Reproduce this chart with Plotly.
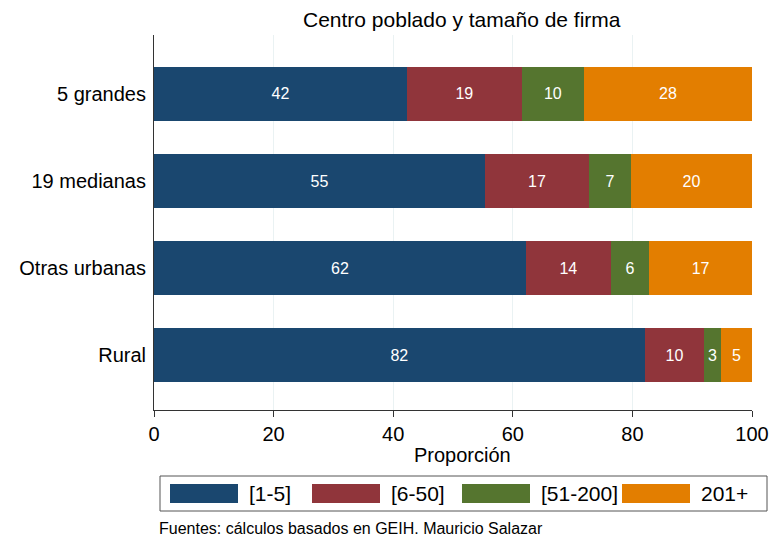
import plotly.graph_objects as go

categories = ["Rural", "Otras urbanas", "19 medianas", "5 grandes"]
series_names = ["[1-5]", "[6-50]", "[51-200]", "201+"]
s_1_5 = [82.05, 62.2, 55.35, 42.3]
s_6_50 = [9.97, 14.2, 17.4, 19.2]
s_51_200 = [2.75, 6.4, 7.0, 10.4]
s_201 = [5.25, 17.2, 20.25, 28.1]
series_values = [s_1_5, s_6_50, s_51_200, s_201]
colors = ["#1a476f", "#90353b", "#55752f", "#e37e00"]
x_ticks = [0, 20, 40, 60, 80, 100]

FONT = "Liberation Sans, Arial, sans-serif"

fig = go.Figure()
for name, vals, col in zip(series_names, series_values, colors):
    fig.add_trace(go.Bar(
        y=categories, x=vals, name=name, orientation="h",
        marker=dict(color=col, line=dict(width=0)),
        text=vals, texttemplate="%{x:.0f}", textposition="inside",
        insidetextanchor="middle", constraintext="none",
        textfont=dict(color="white", size=16, family=FONT),
        width=0.62, showlegend=False,
    ))

# plot area: x 154..752, y 35..410
L, R, T, B = 154, 17, 35, 132
W, H = 769, 542
pw = W - L - R
ph = H - T - B

def px_x(p):
    return (p - L) / pw

def px_y(p):
    return (H - B - p) / ph

fig.update_layout(
    width=W, height=H,
    margin=dict(l=L, r=R, t=T, b=B, pad=0, autoexpand=False),
    barmode="stack",
    paper_bgcolor="white", plot_bgcolor="white",
    font=dict(family=FONT, size=20, color="black"),
    showlegend=False,
)
fig.update_xaxes(
    range=[0, 100], tickvals=x_ticks, ticktext=[str(t) for t in x_ticks],
    showgrid=True, gridcolor="#eaf2f3", gridwidth=1,
    showline=True, linecolor="#333333", linewidth=1,
    ticks="outside", ticklen=6, tickcolor="#333333",
    tickfont=dict(size=20), zeroline=False, automargin=False,
)
fig.update_yaxes(
    type="category", categoryorder="array", categoryarray=categories,
    range=[-0.632, 3.678],
    showgrid=False, showline=True, linecolor="#333333", linewidth=1,
    ticks="outside", ticklen=3, tickcolor="rgba(0,0,0,0)",
    tickfont=dict(size=20), zeroline=False, automargin=False,
)

annotations = [
    dict(text="Centro poblado y tamaño de firma", x=px_x(462), y=px_y(20),
         xref="paper", yref="paper", showarrow=False, font=dict(size=21),
         xanchor="center", yanchor="middle"),
    dict(text="Proporción", x=px_x(462), y=px_y(455),
         xref="paper", yref="paper", showarrow=False, font=dict(size=20),
         xanchor="center", yanchor="middle"),
    dict(text="Fuentes: cálculos basados en GEIH. Mauricio Salazar", x=px_x(157), y=px_y(528),
         xref="paper", yref="paper", showarrow=False, font=dict(size=16),
         xanchor="left", yanchor="middle"),
]

shapes = [dict(type="rect", xref="paper", yref="paper",
               x0=px_x(160), x1=px_x(767), y0=px_y(511), y1=px_y(476),
               line=dict(color="#555555", width=1), fillcolor="rgba(0,0,0,0)")]
sw_x = [170, 312, 462, 622]
for name, col, sx in zip(series_names, colors, sw_x):
    shapes.append(dict(type="rect", xref="paper", yref="paper",
                       x0=px_x(sx), x1=px_x(sx + 68), y0=px_y(503), y1=px_y(484),
                       line=dict(width=0), fillcolor=col))
    annotations.append(dict(text=name, x=px_x(sx + 77), y=px_y(493.5),
                            xref="paper", yref="paper", showarrow=False,
                            font=dict(size=21), xanchor="left", yanchor="middle"))

fig.update_layout(annotations=annotations, shapes=shapes)
fig.write_html("out.html", config={"displayModeBar": False},
               post_script="document.body.style.margin='0';document.body.style.overflow='hidden';")
